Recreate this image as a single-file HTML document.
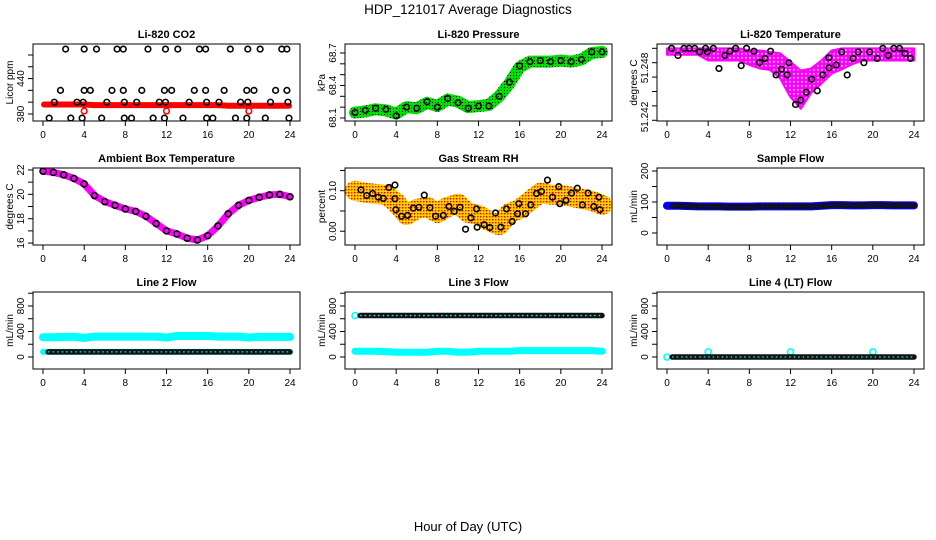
<!DOCTYPE html>
<html><head><meta charset="utf-8"><style>
html,body{margin:0;padding:0;background:#fff}
svg{display:block;font-family:"Liberation Sans",sans-serif}
</style></head><body>
<svg id="chart" width="936" height="540" viewBox="0 0 936 540" xmlns="http://www.w3.org/2000/svg">
<defs>
<pattern id="pgreen" width="3" height="3" patternUnits="userSpaceOnUse"><rect width="3" height="3" fill="#00e000"/><rect width="1" height="1" fill="#000"/></pattern>
<pattern id="porange" width="3" height="3" patternUnits="userSpaceOnUse"><rect width="3" height="3" fill="#ffd000"/><rect width="1.4" height="1.4" fill="#e00000"/></pattern>
<pattern id="pmag" width="4" height="4" patternUnits="userSpaceOnUse"><rect width="4" height="4" fill="#ff00ff"/><rect x="1" y="1" width="1.6" height="1.6" fill="#fff"/></pattern>
</defs>
<text x="468" y="14" font-size="13.5" text-anchor="middle">HDP_121017  Average Diagnostics</text>
<text x="468" y="531" font-size="13" text-anchor="middle">Hour of Day (UTC)</text>
</svg>
<script>
const hours=[0,1,2,3,4,5,6,7,8,9,10,11,12,13,14,15,16,17,18,19,20,21,22,23,24];
const blackHours=[0.5,1,2,3,4,5,6,7,8,9,10,11,12,13,14,15,16,17,18,19,20,21,22,23,24];
const xTicks=[0,4,8,12,16,20,24];
// CO2
const co2Red=[396,396,396,396,396,395,395,395,395,395,395,395,395,395,395,395,395,395,394,394,394,394,394,394,394];
const co2RedOutH=[4,12,20];
const co2RedOutV=[385,385,385];
const co2BlackH=[2.2,4.0,5.2,7.2,7.8,10.2,11.9,13.1,15.2,15.8,18.2,19.9,21.1,23.2,23.7,1.7,4.0,4.6,6.7,7.8,9.6,11.8,12.5,14.7,15.8,17.6,19.8,20.5,22.6,23.7,1.1,3.3,3.9,6.2,7.9,9.1,11.3,11.9,14.2,15.9,17.1,19.2,19.9,22.1,23.8,0.6,2.7,3.8,5.7,7.9,8.6,10.7,11.8,13.6,15.9,16.5,18.7,19.8,21.6,23.9];
const co2BlackV=[490,490,490,490,490,490,490,490,490,490,490,490,490,490,490,420,420,420,420,420,420,420,420,420,420,420,420,420,420,420,400,400,400,400,400,400,400,400,400,400,400,400,400,400,400,373,373,373,373,373,373,373,373,373,373,373,373,373,373,373];
// Pressure
const pressGreen=[68.15,68.16,68.18,68.17,68.14,68.20,68.19,68.24,68.21,68.27,68.25,68.20,68.21,68.22,68.30,68.42,68.57,68.62,68.62,68.62,68.63,68.62,68.64,68.70,68.71];
const pressBlack=[68.15,68.17,68.19,68.18,68.12,68.20,68.19,68.25,68.20,68.28,68.24,68.19,68.21,68.21,68.30,68.43,68.58,68.62,68.63,68.62,68.63,68.62,68.64,68.71,68.71];
// Li-820 temperature
const tempUpper=[51.252,51.252,51.252,51.252,51.252,51.252,51.252,51.252,51.2517,51.2517,51.2515,51.2513,51.2501,51.2489,51.2492,51.2503,51.2517,51.252,51.252,51.252,51.252,51.252,51.252,51.252,51.252];
const tempLower=[51.2511,51.2511,51.2511,51.2511,51.2503,51.2503,51.2503,51.2503,51.2497,51.2492,51.2490,51.2478,51.2452,51.2436,51.2458,51.2471,51.2485,51.2491,51.2498,51.2503,51.2503,51.2503,51.2503,51.2503,51.2503];
const tempBlackH=[0.45,1.07,1.65,2.14,2.69,3.17,3.75,3.92,4.5,5.05,5.6,6.12,6.67,7.21,7.73,8.45,8.99,9.51,10.06,10.6,11.12,11.68,11.84,12.49,12.98,13.53,14.05,14.6,15.15,15.73,15.73,16.44,16.96,17.51,18.06,18.58,19.13,19.68,20.42,20.97,21.49,22.04,22.59,23.11,23.66];
const tempBlackV=[51.2520,51.2510,51.2520,51.2520,51.2520,51.2515,51.2520,51.2515,51.2520,51.2492,51.2510,51.2516,51.2520,51.2496,51.2520,51.2516,51.2500,51.2506,51.2516,51.2483,51.2491,51.2483,51.2500,51.2442,51.2448,51.2459,51.2477,51.2461,51.2483,51.2493,51.2507,51.2497,51.2515,51.2483,51.2506,51.2515,51.2500,51.2515,51.2506,51.2520,51.2510,51.2520,51.2520,51.2513,51.2506];
// Ambient
const ambient=[21.9,21.8,21.6,21.3,20.85,19.9,19.4,19.1,18.8,18.6,18.2,17.6,17.0,16.75,16.4,16.25,16.6,17.4,18.4,19.1,19.5,19.75,19.95,20.0,19.8];
// RH
const rhBand=[0.100,0.095,0.092,0.090,0.070,0.040,0.055,0.060,0.045,0.060,0.068,0.045,0.040,0.025,0.015,0.045,0.055,0.075,0.095,0.090,0.090,0.085,0.080,0.075,0.065];
const rhBlackH=[0.58,1.13,1.71,2.26,2.75,3.29,3.88,3.88,3.97,4.53,5.11,5.66,6.21,6.73,7.28,7.83,8.58,9.13,9.64,10.2,10.74,11.26,11.81,11.87,12.55,13.1,13.65,14.17,14.72,15.27,15.79,15.92,16.57,17.08,17.63,18.12,18.7,19.19,19.8,19.9,20.5,21.04,21.6,22.1,22.65,23.2,23.7,23.8];
const rhBlackV=[0.102,0.088,0.093,0.084,0.081,0.108,0.114,0.080,0.053,0.037,0.039,0.057,0.059,0.089,0.058,0.037,0.039,0.061,0.049,0.059,0.005,0.033,0.055,0.010,0.016,0.009,0.045,0.010,0.055,0.024,0.043,0.068,0.043,0.065,0.093,0.098,0.126,0.084,0.110,0.068,0.076,0.094,0.106,0.065,0.094,0.061,0.084,0.053];
// Sample flow
const sampleBlue=[88,88,87,86,86,86,85,85,85,86,86,86,86,86,86,88,90,90,89,89,90,90,89,89,89];
const sampleBlack=[88,88,87,86,85,85,84,84,84,86,86,86,86,86,86,87,90,90,89,89,91,90,89,89,89];
// Line flows
const line2CyanHigh=[310,310,315,315,300,320,320,320,320,320,320,320,305,330,330,330,330,320,320,320,305,315,315,315,315];
const line2CyanLow=[80,80,80,80,80,80,80,80,80,80,80,80,80,80,80,80,80,80,80,80,80,80,80,80,80];
const line2Black=[80,80,80,80,80,80,80,80,80,80,80,80,80,80,80,80,80,80,80,80,80,80,80,80,80];
const line3CyanLow=[90,90,90,85,75,75,75,75,90,90,75,75,90,90,90,90,100,100,100,100,100,100,100,100,90];
const line3CyanHighH=[0];
const line3CyanHighV=[650];
const line3Black=[650,650,650,650,650,650,650,650,650,650,650,650,650,650,650,650,650,650,650,650,650,650,650,650,650];
const line4CyanH=[0,4,12,20];
const line4CyanV=[0,80,80,80];
const line4Black=[0,0,0,0,0,0,0,0,0,0,0,0,0,0,0,0,0,0,0,0,0,0,0,0,0];

const NS='http://www.w3.org/2000/svg';
const svg=document.getElementById('chart');
function mk(tag,parent){const e=document.createElementNS(NS,tag);(parent||svg).appendChild(e);return e;}
function set(e,attrs){for(const k in attrs)e.setAttribute(k,attrs[k]);return e;}

function panel(idx,col,row,title,ylab,ymin,ymax,ticks,labelVals,labelTexts,labelPos){
  const x0=33+312*col, w=267, y0=44+124*row, h=77;
  const X=v=>x0+10+v*(247/24);
  const Y=v=>y0+h-(v-ymin)/(ymax-ymin)*h;
  const g=mk('g');
  
  
  const cp=mk('clipPath',g); cp.id='clip'+idx;
  set(mk('rect',cp),{x:x0,y:y0,width:w,height:h});
  const t=mk('text',g);
  set(t,{x:x0+w/2,y:y0-6,'font-size':11,'font-weight':'bold','text-anchor':'middle'});
  t.textContent=title;
  
  
  const yl=mk('text',g);
  set(yl,{x:0,y:0,'font-size':10,'text-anchor':'middle',transform:`translate(${x0-20},${y0+h/2}) rotate(-90)`});
  yl.textContent=ylab;
  
  
  xTicks.forEach(v=>{
    const l=mk('line',g); set(l,{x1:X(v),x2:X(v),y1:y0+h,y2:y0+h+5,stroke:'#000'});
    
    
    const tx=mk('text',g); set(tx,{x:X(v),y:y0+h+17,'font-size':10,'text-anchor':'middle'}); tx.textContent=v;
    
    
  });
  ticks.forEach(v=>{
    const l=mk('line',g); set(l,{x1:x0-5,x2:x0,y1:Y(v),y2:Y(v),stroke:'#000'});
    
    
  });
  labelTexts.forEach((s,i)=>{
    const yy=labelPos?labelPos[i]:Y(labelVals[i]);
    const tx=mk('text',g); set(tx,{x:0,y:0,'font-size':10,'text-anchor':'middle',transform:`translate(${x0-9},${yy}) rotate(-90)`}); tx.textContent=s;
    
    
  });
  const plot=mk('g',g); plot.setAttribute('clip-path',`url(#clip${idx})`);
  
  
  const box=mk('rect',g); set(box,{x:x0,y:y0,width:w,height:h,fill:'none',stroke:'#000'});
  
  
  return {plot,X,Y};
}
function band(p,xs,ys,width,paint,name){
  const e=mk('polyline',p.plot);
  set(e,{points:xs.map((x,i)=>p.X(x)+','+p.Y(ys[i])).join(' '),fill:'none',stroke:paint,'stroke-width':width,'stroke-linejoin':'round','stroke-linecap':'round'});
  
  
}
function area(p,xs,up,lo,paint,name){
  const pts=xs.map((x,i)=>p.X(x)+','+p.Y(up[i])).concat(xs.slice().reverse().map((x,j)=>p.X(x)+','+p.Y(lo[xs.length-1-j])));
  const e=mk('polygon',p.plot);
  set(e,{points:pts.join(' '),fill:paint,stroke:'#ff00ff','stroke-width':2,'stroke-linejoin':'round'});
  
  
}
function dots(p,xs,ys,color,name,r){
  xs.forEach((x,i)=>{
    const c=mk('circle',p.plot);
    set(c,{cx:p.X(x),cy:p.Y(ys[i]),r:r||2.8,fill:'none',stroke:color,'stroke-width':1.6});
    
    
  });
}
function chain(p,xs,ys,inner,name){
  band(p,xs,ys,5.5,'#111',name);
  const e=mk('polyline',p.plot);
  set(e,{points:xs.map((x,i)=>p.X(x)+','+p.Y(ys[i])).join(' '),fill:'none',stroke:inner,'stroke-width':1.3,'stroke-dasharray':'1.5 3'});
  
  
}

// Row 1
let p=panel(0,0,0,'Li-820 CO2','Licor ppm',368.1,498.6,[380,400,420,440,460,480],[380,440],['380','440']);
band(p,[0.1].concat(hours.slice(1,24)).concat([23.9]),co2Red,6,'#ff0000','co2-red-series');
dots(p,co2RedOutH,co2RedOutV,'#ff0000','co2-red-outlier');
dots(p,co2BlackH,co2BlackV,'#000','co2-black-point');

p=panel(1,1,0,'Li-820 Pressure','kPa',68.072,68.783,[68.1,68.2,68.3,68.4,68.5,68.6,68.7],[68.1,68.4,68.7],['68.1','68.4','68.7']);
band(p,hours,pressGreen,12,'url(#pgreen)','pressure-green-series');
dots(p,hours,pressBlack,'#000','pressure-black-point');

p=panel(2,2,0,'Li-820 Temperature','degrees C',51.2419,51.2526,[51.242,51.244,51.246,51.248,51.25,51.252],[],['51.242','51.248'],[117,68]);
area(p,hours,tempUpper,tempLower,'url(#pmag)','temperature-magenta-series');
dots(p,tempBlackH,tempBlackV,'#000','temperature-black-point');

// Row 2
p=panel(3,0,1,'Ambient Box Temperature','degrees C',15.84,22.16,[16,17,18,19,20,21,22],[16,18,20,22],['16','18','20','22']);
band(p,hours,ambient,7,'#ff00ff','ambient-magenta-series');
dots(p,hours,ambient,'#000','ambient-black-point',3);

p=panel(4,1,1,'Gas Stream RH','percent',-0.034,0.156,[0,0.05,0.10,0.15],[0,0.10],['0.00','0.10']);
band(p,hours,rhBand,20,'url(#porange)','rh-orange-series');
dots(p,rhBlackH,rhBlackV,'#000','rh-black-point');

p=panel(5,2,1,'Sample Flow','mL/min',-38.7,209.7,[0,50,100,150,200],[0,100,200],['0','100','200']);
band(p,hours,sampleBlue,8,'#0000ff','sample-flow-blue-series');
chain(p,blackHours,sampleBlack,'#0000ff','sample-flow-black-series');

// Row 3
const fT=[0,200,400,600,800,1000];
p=panel(6,0,2,'Line 2 Flow','mL/min',-188,1019,fT,[0,400,800],['0','400','800']);
band(p,hours,line2CyanHigh,8,'#00ffff','line2-cyan-high-series');
band(p,hours,line2CyanLow,6,'#00ffff','line2-cyan-low-series');
chain(p,blackHours,line2Black,'#00ffff','line2-black-series');

p=panel(7,1,2,'Line 3 Flow','mL/min',-188,1019,fT,[0,400,800],['0','400','800']);
band(p,hours,line3CyanLow,7,'#00ffff','line3-cyan-low-series');
dots(p,line3CyanHighH,line3CyanHighV,'#00ffff','line3-cyan-high-point',3);
chain(p,blackHours,line3Black,'#00ffff','line3-black-series');

p=panel(8,2,2,'Line 4 (LT) Flow','mL/min',-188,1019,fT,[0,400,800],['0','400','800']);
dots(p,line4CyanH,line4CyanV,'#00ffff','line4-cyan-point',3);
chain(p,blackHours,line4Black,'#00ffff','line4-black-series');
</script>
</body></html>
